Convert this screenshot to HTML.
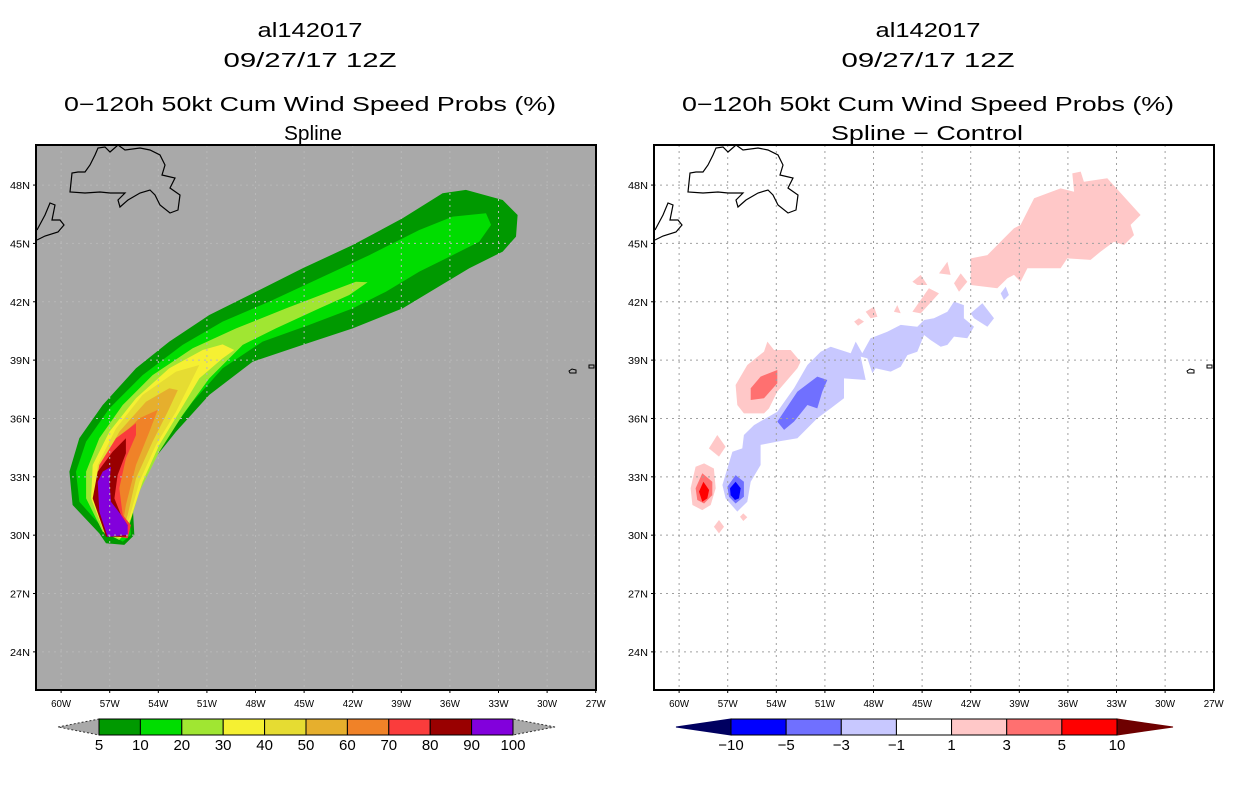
<!DOCTYPE html>
<html><head><meta charset="utf-8"><style>
html,body{margin:0;padding:0;background:#fff;}
svg{display:block;font-family:"Liberation Sans",sans-serif;}
</style></head><body>
<svg id="chart" width="1236" height="800" viewBox="0 0 1236 800" xmlns="http://www.w3.org/2000/svg">
<rect width="1236" height="800" fill="#fff"/>
<g font-size="20" text-anchor="middle" fill="#000">
<text x="310" y="37" textLength="105" lengthAdjust="spacingAndGlyphs">al142017</text>
<text x="310" y="67" textLength="173" lengthAdjust="spacingAndGlyphs">09/27/17 12Z</text>
<text x="310" y="111" textLength="492" lengthAdjust="spacingAndGlyphs">0−120h 50kt Cum Wind Speed Probs (%)</text>
<text x="313" y="140" textLength="58" lengthAdjust="spacingAndGlyphs">Spline</text>
</g>
<g font-size="20" text-anchor="middle" fill="#000">
<text x="928" y="37" textLength="105" lengthAdjust="spacingAndGlyphs">al142017</text>
<text x="928" y="67" textLength="173" lengthAdjust="spacingAndGlyphs">09/27/17 12Z</text>
<text x="928" y="111" textLength="492" lengthAdjust="spacingAndGlyphs">0−120h 50kt Cum Wind Speed Probs (%)</text>
<text x="927" y="140" textLength="192" lengthAdjust="spacingAndGlyphs">Spline − Control</text>
</g>
<g id="left"></g>
<g id="right"></g>
<g id="cbars"></g>
</svg>
<script>
const lonTicks = [-60,-57,-54,-51,-48,-45,-42,-39,-36,-33,-30,-27];
const latTicks = [24,27,30,33,36,39,42,45,48];
// Spline probability contours (lon, lat), levels 5..90
const swath5 = [[-57.64,30.09],[-59.29,31.55],[-59.49,33.27],[-58.88,34.98],[-57.43,36.69],[-55.38,38.58],[-53.32,39.95],[-50.85,41.32],[-47.97,42.52],[-45.09,43.72],[-42.0,44.92],[-38.92,46.29],[-36.45,47.58],[-35.01,47.75],[-32.74,47.23],[-31.82,46.46],[-31.92,45.35],[-32.74,44.58],[-34.8,43.72],[-36.86,42.69],[-38.92,41.66],[-42.0,40.63],[-45.09,39.78],[-48.18,38.92],[-50.85,37.21],[-52.91,35.32],[-54.55,33.61],[-55.58,31.55],[-55.48,30.01],[-56.1,29.5],[-57.23,29.58]];
const swath10 = [[-57.23,30.18],[-58.88,31.72],[-59.08,33.27],[-58.46,34.81],[-57.02,36.52],[-54.97,38.23],[-52.5,39.78],[-50.03,40.98],[-47.15,42.01],[-44.06,43.2],[-40.97,44.4],[-37.89,45.69],[-35.83,46.38],[-33.77,46.55],[-33.46,45.95],[-34.19,45.09],[-35.83,44.4],[-37.89,43.55],[-39.95,42.52],[-42.0,41.66],[-44.68,40.81],[-47.56,39.95],[-50.03,38.58],[-51.88,36.86],[-53.52,34.98],[-54.97,33.09],[-55.79,31.21],[-55.69,30.01],[-56.2,29.67]];
const swath20 = [[-57.43,30.18],[-58.46,31.89],[-58.46,33.27],[-57.64,34.98],[-56.2,36.69],[-54.35,38.23],[-51.88,39.61],[-49.2,40.63],[-46.12,41.66],[-43.44,42.51],[-41.8,43.03],[-41.08,43.0],[-42.21,42.35],[-44.06,41.66],[-46.74,40.63],[-48.79,39.78],[-50.85,38.06],[-52.5,36.18],[-53.94,34.29],[-55.17,32.24],[-55.79,30.52],[-56.41,29.75]];
const swath30 = [[-57.33,30.09],[-58.15,31.89],[-58.05,33.61],[-57.02,35.32],[-55.38,37.04],[-53.32,38.58],[-51.26,39.52],[-50.03,39.81],[-49.31,39.52],[-50.03,39.09],[-51.47,38.06],[-52.7,36.35],[-53.94,34.64],[-54.97,32.75],[-55.69,30.87],[-56.3,29.84]];
const swath40 = [[-57.23,30.09],[-57.95,31.89],[-57.74,33.61],[-56.61,35.49],[-54.97,37.21],[-52.91,38.41],[-51.47,38.75],[-52.08,37.72],[-52.91,36.35],[-54.14,34.64],[-55.17,32.75],[-55.79,30.87],[-56.3,29.92]];
const swath50 = [[-57.19,30.09],[-57.85,31.89],[-57.54,33.61],[-56.41,35.32],[-54.76,36.86],[-53.32,37.55],[-52.8,37.46],[-53.42,36.35],[-54.35,34.81],[-55.38,32.92],[-55.89,31.04],[-56.3,29.97]];
const swath60 = [[-57.13,30.09],[-57.85,31.89],[-57.43,33.61],[-56.41,34.98],[-55.17,36.01],[-54.04,36.44],[-54.55,35.32],[-55.38,33.61],[-56.0,31.55],[-56.3,30.01]];
const swath70 = [[-57.13,30.01],[-58.01,31.89],[-57.64,33.61],[-56.61,34.98],[-55.38,35.75],[-55.38,35.15],[-56.0,33.95],[-56.41,32.41],[-56.2,31.04],[-55.69,30.52],[-55.89,29.84]];
const swath80 = [[-57.23,29.92],[-58.05,31.89],[-57.74,33.27],[-56.82,34.29],[-56.0,34.98],[-56.0,34.21],[-56.51,33.09],[-56.71,31.89],[-56.3,31.04],[-55.89,30.52],[-56.0,29.92]];
const swath90 = [[-57.13,29.92],[-57.64,31.21],[-57.74,32.75],[-57.43,33.27],[-56.92,33.52],[-57.02,32.75],[-56.92,31.72],[-56.3,31.04],[-55.89,30.52],[-55.89,30.01]];
// Difference contours
const pinkNE = [[-42.0,44.23],[-40.97,44.4],[-39.95,45.26],[-39.33,45.78],[-38.92,45.95],[-38.09,47.32],[-36.45,47.83],[-35.62,47.66],[-35.73,48.6],[-35.21,48.69],[-35.01,48.17],[-33.57,48.35],[-31.51,46.46],[-32.13,45.95],[-31.92,45.43],[-32.54,44.92],[-33.16,45.09],[-33.98,44.58],[-34.6,44.15],[-36.04,44.23],[-36.45,43.72],[-38.5,43.72],[-38.92,43.03],[-39.33,43.38],[-39.74,43.2],[-40.36,42.69],[-42.0,42.86]];
const pinkA = [[-43.96,43.46],[-43.44,44.06],[-43.24,43.38]];
const pinkB = [[-43.03,42.95],[-42.62,43.46],[-42.21,43.03],[-42.72,42.52]];
const pinkC = [[-45.6,43.03],[-45.09,43.38],[-44.68,42.86],[-45.3,42.86]];
const pinkD = [[-45.6,41.49],[-44.58,42.69],[-43.96,42.43],[-45.09,41.4]];
const pinkE = [[-48.48,41.49],[-47.97,41.75],[-47.76,41.23],[-48.18,41.15]];
const pinkF = [[-49.2,40.98],[-48.9,41.15],[-48.59,40.98],[-48.96,40.77]];
const pinkG = [[-46.74,41.49],[-46.53,41.83],[-46.32,41.41]];
const pinkMid = [[-56.51,37.72],[-55.79,38.75],[-54.76,39.44],[-54.55,39.95],[-54.14,39.52],[-53.11,39.52],[-52.5,38.92],[-52.7,38.58],[-53.94,37.38],[-54.45,36.52],[-54.76,36.26],[-56.0,36.26],[-56.41,36.69]];
const salmonMid = [[-55.58,37.55],[-54.97,38.15],[-53.94,38.49],[-53.94,37.81],[-54.76,37.04],[-55.58,36.95]];
const pinkH = [[-58.16,34.46],[-57.64,35.15],[-57.13,34.55],[-57.54,34.04]];
const pinkSW = [[-59.29,32.41],[-58.98,33.52],[-58.46,33.69],[-57.85,33.43],[-57.74,32.41],[-58.05,31.55],[-58.57,31.29],[-59.18,31.55]];
const salmonSW = [[-58.98,32.41],[-58.57,33.18],[-57.95,32.75],[-57.95,32.06],[-58.46,31.63],[-58.88,31.81]];
const redSW = [[-58.77,32.24],[-58.5,32.75],[-58.15,32.32],[-58.26,31.89],[-58.57,31.72]];
const pinkI = [[-57.85,30.43],[-57.54,30.78],[-57.23,30.43],[-57.54,30.09]];
const pinkJ = [[-56.24,30.95],[-56.04,31.12],[-55.79,30.92],[-56.04,30.73]];
const blueBand = [[-57.33,32.58],[-56.71,34.29],[-56.1,34.46],[-56.0,35.15],[-55.38,35.66],[-53.94,36.35],[-52.91,37.55],[-52.08,38.75],[-51.26,39.43],[-50.64,39.69],[-49.41,39.35],[-49.1,39.95],[-48.69,39.35],[-48.18,40.12],[-47.15,40.46],[-46.32,40.81],[-45.3,40.72],[-44.88,41.06],[-44.27,41.15],[-43.44,41.49],[-43.03,42.01],[-42.42,41.83],[-42.42,41.15],[-41.8,40.72],[-42.21,40.12],[-43.03,40.21],[-43.44,39.78],[-43.85,39.69],[-44.47,40.03],[-44.88,40.29],[-45.3,39.43],[-45.91,39.26],[-46.32,38.66],[-46.94,38.41],[-47.87,38.58],[-48.07,38.32],[-48.38,39.09],[-48.79,39.18],[-48.48,37.98],[-49.82,38.06],[-49.82,37.04],[-50.64,36.52],[-51.47,36.01],[-52.7,34.98],[-53.94,34.81],[-54.97,34.64],[-54.97,33.61],[-55.58,32.75],[-55.79,31.72],[-56.41,31.21],[-57.13,31.89]];
const blueK = [[-42.0,41.41],[-41.28,41.92],[-40.56,41.15],[-40.97,40.72],[-41.8,41.15]];
const blueL = [[-40.15,42.43],[-39.84,42.78],[-39.64,42.35],[-39.95,42.09]];
const blueMid = [[-53.94,35.84],[-52.7,37.38],[-51.47,38.15],[-50.85,37.98],[-51.16,37.38],[-51.47,36.52],[-52.08,36.69],[-52.91,35.84],[-53.52,35.41]];
const blueSW = [[-57.02,32.49],[-56.51,33.09],[-56.0,32.75],[-56.0,31.98],[-56.51,31.63],[-56.92,31.98]];
const navySW = [[-56.86,32.41],[-56.51,32.75],[-56.2,32.41],[-56.3,31.89],[-56.55,31.81],[-56.82,32.06]];
// Colorbar levels
const probLevels = ['5','10','20','30','40','50','60','70','80','90','100'];
const probColors = ['#009900','#00dd00','#a0e632','#f5f032','#e6dc32','#e6af2d','#f08228','#fa3c3c','#990000','#8200dc'];
const diffLevels = ['−10','−5','−3','−1','1','3','5','10'];
const diffColors = ['#0000ff','#7070ff','#c8c8ff','#ffffff','#ffc8c8','#ff7070','#ff0000'];

const NS='http://www.w3.org/2000/svg';
function mk(tag, attrs, parent){const e=document.createElementNS(NS,tag);for(const k in attrs)e.setAttribute(k,attrs[k]);parent.appendChild(e);return e;}
const Y0=145, Y1=690, PW=560;
function xScale(x0){return lon=>x0+(lon+61.55)*16.2;}
function yScale(lat){return Y0+(50.06-lat)*19.45;}
function poly(pts,xs,color,parent,name){
  const d=pts.map((p,i)=>(i?'L':'M')+xs(p[0]).toFixed(1)+','+yScale(p[1]).toFixed(1)).join('')+'Z';
  const e=mk('path',{d:d,fill:color},parent);
  
  
}
const coast='M70,192L72,173L78,172L85,172L90,165L95,155L98,148L105,147L110,152L118,145L125,150L140,148L150,150L160,155L165,165L162,175L175,178L170,188L180,195L178,210L170,213L160,205L155,195L150,190L140,193L128,200L120,207L118,200L125,193L110,193L100,192L85,193Z M37,230L45,215L50,203L55,205L52,220L60,220L64,225L58,232L45,236L37,240';
function panel(g,x0,bg,layers,gridColor,gridOver){
  const xs=xScale(x0);
  const clip=mk('clipPath',{id:'clip'+x0},g);
  mk('rect',{x:x0,y:Y0,width:PW,height:Y1-Y0},clip);
  const bgr=mk('rect',{x:x0,y:Y0,width:PW,height:Y1-Y0,fill:bg},g);
  
  
  const inner=mk('g',{'clip-path':'url(#clip'+x0+')'},g);
  layers.forEach(l=>poly(l[0],xs,l[1],inner,l[2]));
  const grid=mk('g',{stroke:gridColor,'stroke-width':1,'stroke-dasharray':'2,4'},inner);
  
  
  lonTicks.forEach(v=>mk('line',{x1:xs(v),x2:xs(v),y1:Y0,y2:Y1},grid));
  latTicks.forEach(v=>mk('line',{x1:x0,x2:x0+PW,y1:yScale(v),y2:yScale(v)},grid));
  const c=mk('path',{d:coast,fill:'none',stroke:'#000','stroke-width':1.2,transform:'translate('+(x0-36)+',0)'},inner);
  
  
  mk('path',{d:'M569,371l3,-2l4,1l0,3l-6,0z M589,365l5,0l0,3l-5,0z',fill:'none',stroke:'#000','stroke-width':1,transform:'translate('+(x0-36)+',0)'},inner);
  const fr=mk('rect',{x:x0,y:Y0,width:PW,height:Y1-Y0,fill:'none',stroke:'#000','stroke-width':2},g);
  
  
  lonTicks.forEach(v=>{
    const t=mk('text',{x:xs(v),y:707,'font-size':10,'text-anchor':'middle',textLength:20,lengthAdjust:'spacingAndGlyphs'},g);
    t.textContent=(-v)+'W';
    
    
    mk('line',{x1:xs(v),x2:xs(v),y1:Y1,y2:Y1+3,stroke:'#000'},g);
  });
  latTicks.forEach(v=>{
    const t=mk('text',{x:x0-6,y:yScale(v)+4,'font-size':10,'text-anchor':'end',textLength:20,lengthAdjust:'spacingAndGlyphs'},g);
    t.textContent=v+'N';
    
    
    mk('line',{x1:x0-3,x2:x0,y1:yScale(v),y2:yScale(v),stroke:'#000'},g);
  });
}
panel(document.getElementById('left'),36,'#a9a9a9',[
 [swath5,probColors[0],'contour-5'],[swath10,probColors[1],'contour-10'],[swath20,probColors[2],'contour-20'],
 [swath30,probColors[3],'contour-30'],[swath40,probColors[4],'contour-40'],[swath50,probColors[5],'contour-50'],
 [swath60,probColors[6],'contour-60'],[swath70,probColors[7],'contour-70'],[swath80,probColors[8],'contour-80'],
 [swath90,probColors[9],'contour-90']],'#b8b8b8');
panel(document.getElementById('right'),654,'#ffffff',[
 [pinkNE,diffColors[4],'pos-diff-ne'],[pinkA,diffColors[4],'pos-diff'],[pinkB,diffColors[4],'pos-diff'],[pinkC,diffColors[4],'pos-diff'],
 [pinkD,diffColors[4],'pos-diff'],[pinkE,diffColors[4],'pos-diff'],[pinkF,diffColors[4],'pos-diff'],[pinkG,diffColors[4],'pos-diff'],
 [pinkMid,diffColors[4],'pos-diff-mid'],[salmonMid,diffColors[5],'pos-diff-mid-3'],[pinkH,diffColors[4],'pos-diff'],
 [pinkSW,diffColors[4],'pos-diff-sw'],[salmonSW,diffColors[5],'pos-diff-sw-3'],[redSW,diffColors[6],'pos-diff-sw-5'],
 [pinkI,diffColors[4],'pos-diff'],[pinkJ,diffColors[4],'pos-diff'],
 [blueBand,diffColors[2],'neg-diff-band'],[blueK,diffColors[2],'neg-diff'],[blueL,diffColors[2],'neg-diff'],
 [blueMid,diffColors[1],'neg-diff-mid-3'],[blueSW,diffColors[1],'neg-diff-sw-3'],[navySW,diffColors[0],'neg-diff-sw-5']],'#a0a0a0');

// Colorbars
const cb=document.getElementById('cbars');
function colorbar(x0,x1,tipL,tipR,labels,colors,triL,triR,dashed,labelOffset){
  const n=colors.length, w=(x1-x0)/n, yt=719, yb=735, ym=727;
  const tl=mk('path',{d:`M${tipL},${ym}L${x0},${yt}L${x0},${yb}Z`,fill:triL,stroke:dashed?'#333':triL,'stroke-dasharray':dashed?'2,2':'none'},cb);
  
  
  const tr=mk('path',{d:`M${tipR},${ym}L${x1},${yt}L${x1},${yb}Z`,fill:triR,stroke:dashed?'#333':triR,'stroke-dasharray':dashed?'2,2':'none'},cb);
  
  
  colors.forEach((c,i)=>{
    const r=mk('rect',{x:x0+i*w,y:yt,width:w,height:yb-yt,fill:c,stroke:'#000','stroke-width':1},cb);
    
    
  });
  labels.forEach((s,i)=>{
    const t=mk('text',{x:x0+(i+labelOffset)*w,y:750,'font-size':15,'text-anchor':'middle'},cb);
    t.textContent=s;
    
    
  });
}
colorbar(99,513,58,555,probLevels,probColors,'#a9a9a9','#a9a9a9',true,0);
colorbar(731,1117,676,1173,diffLevels,diffColors,'#000060','#6e0000',false,0);
</script>
</body></html>
